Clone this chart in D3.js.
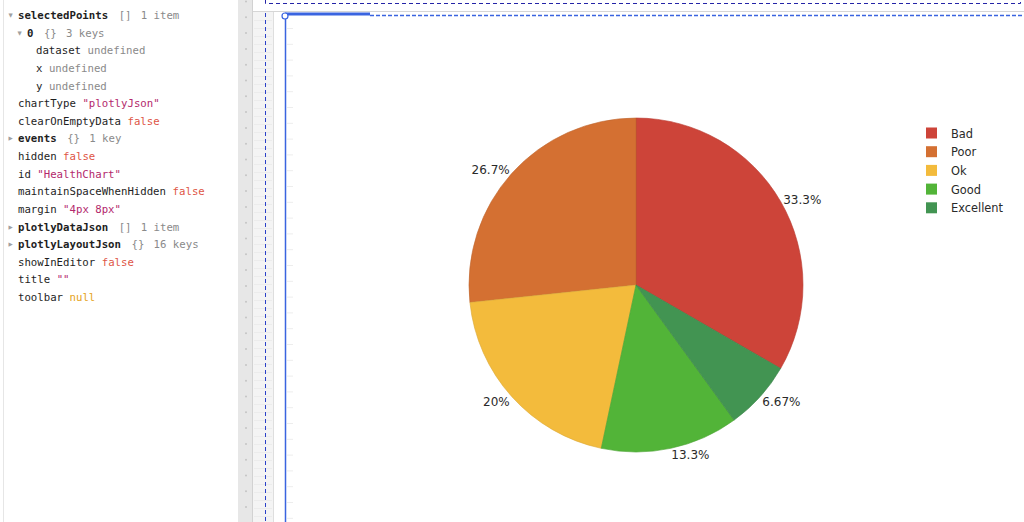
<!DOCTYPE html>
<html>
<head>
<meta charset="utf-8">
<script src="https://cdn.jsdelivr.net/npm/d3@7"></script>
<style>
  html, body { margin: 0; padding: 0; background: #fff; overflow: hidden; }
  svg { display: block; }
</style>
</head>
<body>
<svg id="canvas"></svg>
<script>
var width = 1024;
var height = 522;

// chart data
var categories = ["Bad", "Poor", "Ok", "Good", "Excellent"];
var counts = [5, 4, 3, 2, 1];
var sliceColors = ["#cd4439", "#d47032", "#f3bb3c", "#52b438", "#429452"];

// inspector rows
var rowDepth = [0, 1, 2, 2, 2, 0, 0, 0, 0, 0, 0, 0, 0, 0, 0, 0, 0];
var rowArrow = ["open", "open", "", "", "", "", "", "closed", "", "", "", "", "closed", "closed", "", "", ""];
var rowKeys = ["selectedPoints", "0", "dataset", "x", "y", "chartType", "clearOnEmptyData", "events",
  "hidden", "id", "maintainSpaceWhenHidden", "margin", "plotlyDataJson", "plotlyLayoutJson",
  "showInEditor", "title", "toolbar"];
var rowValues = ["1 item", "3 keys", "undefined", "undefined", "undefined", "\"plotlyJson\"", "false", "1 key",
  "false", "\"HealthChart\"", "false", "\"4px 8px\"", "1 item", "16 keys",
  "false", "\"\"", "null"];
var rowBrackets = ["[]", "{}", "", "", "", "", "", "{}", "", "", "", "", "[]", "{}", "", "", ""];
var rowKinds = ["meta", "meta", "undef", "undef", "undef", "str", "bool", "meta",
  "bool", "str", "bool", "str", "meta", "meta", "bool", "str", "null"];

var kindColor = { meta: "#8a8a8a", undef: "#8a8a8a", str: "#b3286c", bool: "#de5546", "null": "#e5a320" };

var svg = d3.select("#canvas")
    .attr("width", width)
    .attr("height", height);

// ---------- left inspector panel ----------
svg.append("line")
    .attr("x1", 3.5).attr("x2", 3.5).attr("y1", 0).attr("y2", height)
    .style("stroke", "#e6e6e6");

var rowY = d3.scaleLinear().domain([0, 16]).range([19, 301]);
var mono = "'DejaVu Sans Mono', monospace";
var charW = 10.7 * 0.602;

function monoText(x, y, txt, color, weight){
    svg.append("text")
        .attr("x", x).attr("y", y)
        .style("font-family", mono)
        .style("font-size", "10.7px")
        .style("font-weight", weight || "normal")
        .style("fill", color)
        .text(txt);
}

rowKeys.forEach(function(k, i){
    var x = 18 + rowDepth[i] * 9;
    var y = rowY(i);
    if (rowArrow[i]) {
        svg.append("text")
            .attr("x", x - 9.5).attr("y", y - 2)
            .style("font-size", "5.5px")
            .style("fill", "#a0a0a0")
            .style("font-family", "DejaVu Sans")
            .text(rowArrow[i] == "open" ? "\u25BC" : "\u25B6");
    }
    monoText(x, y, k, "#1e1e1e", rowArrow[i] ? "bold" : "normal");
    var keyEnd = x + k.length * charW;
    if (rowKinds[i] == "meta") {
        monoText(keyEnd + 10.5, y, rowBrackets[i], kindColor.meta);
        monoText(keyEnd + 32.5, y, rowValues[i], kindColor.meta);
    } else {
        monoText(keyEnd + charW, y, rowValues[i], kindColor[rowKinds[i]]);
    }
});

// ---------- editor gutter ----------
svg.append("rect").attr("x", 238).attr("y", 0).attr("width", 14).attr("height", height).style("fill", "#e7e7e7");
svg.append("line").attr("x1", 252.5).attr("x2", 252.5).attr("y1", 0).attr("y2", height).style("stroke", "#d2d2d2");
svg.append("rect").attr("x", 253).attr("y", 12).attr("width", 20).attr("height", height).style("fill", "#f4f4f4");
svg.append("line").attr("x1", 273.5).attr("x2", 273.5).attr("y1", 12).attr("y2", height).style("stroke", "#dedede");

var dotY = d3.range(1.5, height, 15.8);
svg.selectAll(".gdot").data(dotY).enter().append("circle")
    .attr("class", "gdot")
    .attr("cx", 246).attr("cy", function(d){ return d; })
    .attr("r", 1)
    .style("fill", "#c4c4c4");

var tickY = d3.range(20, height, 8);
svg.selectAll(".gtick").data(tickY).enter().append("line")
    .attr("class", "gtick")
    .attr("x1", 254).attr("x2", 272)
    .attr("y1", function(d){ return d + 0.5; }).attr("y2", function(d){ return d + 0.5; })
    .style("stroke", "#ececec");

var rulerY = d3.range(28, height, 15.8);
svg.selectAll(".rtick").data(rulerY).enter().append("line")
    .attr("class", "rtick")
    .attr("x1", 287).attr("x2", 293)
    .attr("y1", function(d){ return d + 0.5; }).attr("y2", function(d){ return d + 0.5; })
    .style("stroke", "#ededed");

// top container frame
svg.append("rect").attr("x", 253).attr("y", 0).attr("width", width - 253).attr("height", 11).style("fill", "#fff");
svg.append("path")
    .attr("d", "M265.5,0 V3.5 H1020.5 V0")
    .style("fill", "none").style("stroke", "#2424a8").style("stroke-dasharray", "4,3");
svg.append("line").attr("x1", 253).attr("x2", width).attr("y1", 11.5).attr("y2", 11.5).style("stroke", "#d6d6d6");
svg.append("line").attr("x1", 265.5).attr("x2", 265.5).attr("y1", 13).attr("y2", height)
    .style("stroke", "#2a40c8").style("stroke-dasharray", "4,3");

// selected component frame
svg.append("line").attr("x1", 370).attr("x2", width).attr("y1", 15.5).attr("y2", 15.5)
    .style("stroke", "#3a64e0").style("stroke-width", 1.3).style("stroke-dasharray", "4,2");
svg.append("rect").attr("x", 285).attr("y", 12.5).attr("width", 85).attr("height", 3).style("fill", "#3a64e0");
svg.append("line").attr("x1", 285.5).attr("x2", 285.5).attr("y1", 15).attr("y2", height)
    .style("stroke", "#3a64e0").style("stroke-width", 1.5);
svg.append("circle").attr("cx", 285).attr("cy", 16).attr("r", 3)
    .style("fill", "#fff").style("stroke", "#3a64e0").style("stroke-width", 1.2);

// ---------- pie ----------
var cx = 636, cy = 285, radius = 167;

var pie = d3.pie()
    .sort(null)
    .value(function(d){ return d; })
    .startAngle(2 * Math.PI / 3)
    .endAngle(2 * Math.PI / 3 - 2 * Math.PI);

var arc = d3.arc().innerRadius(0).outerRadius(radius);
var total = d3.sum(counts);
var arcs = pie(counts);

var pieG = svg.append("g").attr("transform", "translate(" + cx + "," + cy + ")");

pieG.selectAll(".slice").data(arcs).enter().append("path")
    .attr("class", "slice")
    .attr("d", arc)
    .style("fill", function(d, i){ return sliceColors[i]; })
    .style("stroke", function(d, i){ return d3.color(sliceColors[i]).darker(0.3); })
    .style("stroke-width", 0.6);

function fmtPct(v){
    var p = v / total * 100;
    return d3.format(".3~r")(p) + "%";
}

function midAngle(d){ return (d.startAngle + d.endAngle) / 2; }

pieG.selectAll(".plabel").data(arcs).enter().append("text")
    .attr("class", "plabel")
    .attr("x", function(d){ return (radius + 3) * Math.sin(midAngle(d)); })
    .attr("y", function(d){
        var c = Math.cos(midAngle(d));
        return -(radius + 3) * c + 5 - 3 * c;
    })
    .attr("text-anchor", function(d){ return Math.sin(midAngle(d)) > 0 ? "start" : "end"; })
    .style("font-family", "DejaVu Sans")
    .style("font-size", "12px")
    .style("fill", "#2a2a2a")
    .text(function(d){ return fmtPct(d.value); });

// ---------- legend ----------
var legY = d3.scaleLinear().domain([0, categories.length - 1]).range([133, 207.8]);
var legend = svg.append("g");
categories.forEach(function(c, i){
    legend.append("rect")
        .attr("x", 926).attr("y", legY(i) - 5.5)
        .attr("width", 11).attr("height", 11)
        .style("fill", sliceColors[i]);
    legend.append("text")
        .attr("x", 951).attr("y", legY(i) + 4.5)
        .style("font-family", "DejaVu Sans")
        .style("font-size", "11.4px")
        .style("fill", "#2a2a2a")
        .text(c);
});
</script>
</body>
</html>
